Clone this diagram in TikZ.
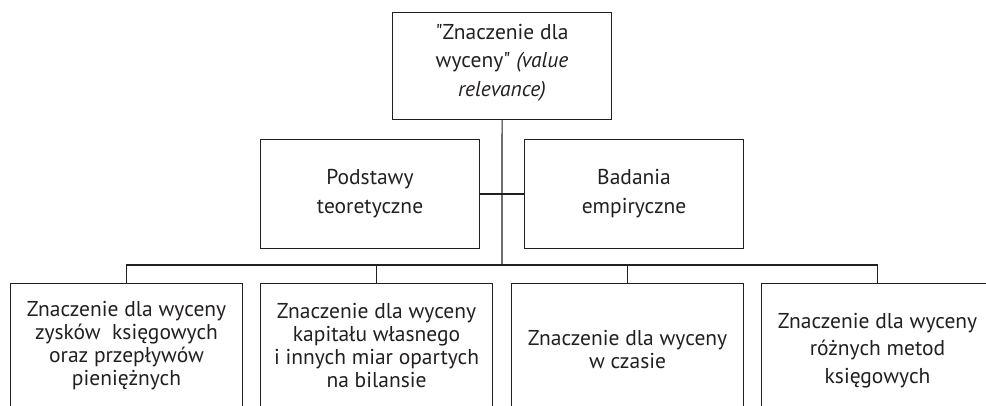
\documentclass[tikz,border=0pt]{standalone}
\usepackage{fontspec}
\setmainfont{PT Sans}[Ligatures=TeXOff]
\definecolor{ink}{HTML}{231F20}
\begin{document}
\begin{tikzpicture}[x=1pt,y=-1pt,
  box/.style={draw=ink, line width=1.1pt, text=ink, align=center, inner sep=0pt,
    font=\fontsize{21.5}{23.3}\selectfont, anchor=north west},
  wide/.style={font=\fontsize{21.5}{29}\selectfont},
  txt/.style={text=ink, align=center, inner sep=0pt, font=\fontsize{21.5}{28.5}\selectfont},
  conn/.style={draw=ink, line width=1.1pt}]
\useasboundingbox (0,0) rectangle (986,406);
\clip (0,0) rectangle (986,406);
\node[box, minimum width=219pt, minimum height=107pt] (top) at (392,12) {};
\node[txt] (toptext) at ([yshift=3.5pt]top.center)
  {"Znaczenie dla\\wyceny" \textit{(value}\\\textit{relevance)}};
\node[box, wide, minimum width=219pt, minimum height=109pt] (m1) at (260,139)
  {Podstawy\\teoretyczne};
\node[box, wide, minimum width=219pt, minimum height=109pt] (m2) at (524,139)
  {Badania\\empiryczne};
\node[box, minimum width=232pt, minimum height=124pt] (b1) at (10,283)
  {Znaczenie dla wyceny\\zysków\ \ księgowych\\oraz przepływów\\pieniężnych};
\node[box, minimum width=232pt, minimum height=124pt] (b2) at (260,283)
  {Znaczenie dla wyceny\\kapitału własnego\\i innych miar opartych\\na bilansie};
\node[box, minimum width=232pt, minimum height=132pt] (b3) at (511,283)
  {Znaczenie dla wyceny\\w czasie};
\node[box, font=\fontsize{21.5}{27.5}\selectfont, minimum width=232pt, minimum height=134pt] (b4) at (761,283)
  {Znaczenie dla wyceny\\różnych metod\\księgowych};
\coordinate (bus) at (502,265);
\coordinate (j1) at (b1.north |- bus);
\coordinate (j2) at (b2.north |- bus);
\coordinate (j3) at (b3.north |- bus);
\coordinate (j4) at (b4.north |- bus);
\draw[conn] (top.south) -- (bus);
\draw[conn] (m1.east) -- (m2.west);
\draw[conn] (b1.north) -- (j1) -- (j4) -- (b4.north);
\draw[conn] (j2) -- (b2.north);
\draw[conn] (j3) -- (b3.north);
\end{tikzpicture}
\end{document}
